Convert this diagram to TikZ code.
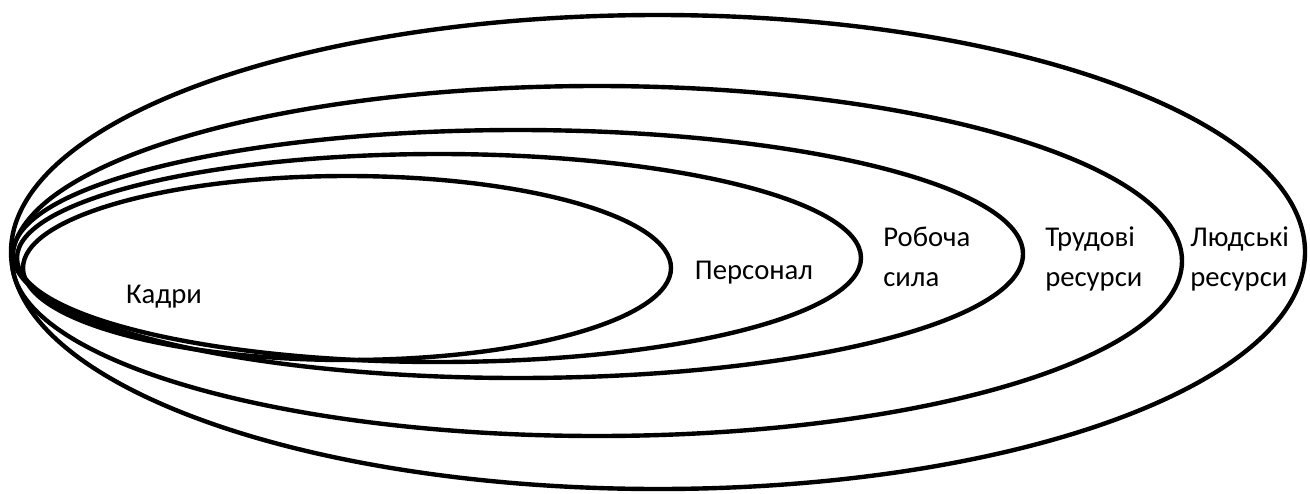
\documentclass[tikz,border=0pt]{standalone}
\usepackage{fontspec}
\setmainfont{Carlito}
\tikzset{
  ring/.style={black, line width=3.3pt},
  lbl/.style={font=\fontsize{21.5}{30}\selectfont, inner sep=0pt, align=left}
}

\begin{document}
\begin{tikzpicture}[x=0.75pt,y=-0.75pt]
\useasboundingbox (0,0) rectangle (1310,493);
\draw[ring] (658,252) ellipse [x radius=647, y radius=237];
\draw[ring] (597,261) ellipse [x radius=585, y radius=175];
\draw[ring] (518,254) ellipse [x radius=505, y radius=124];
\draw[ring] (439,258) ellipse [x radius=422, y radius=104];
\draw[ring] (347,268) ellipse [x radius=324, y radius=92];
\node[lbl, anchor=base] (kadry) at (164,303) {Кадри};
\node[lbl, anchor=base] (personal) at (754,279) {Персонал};
\node[lbl, anchor=base west] (robocha) at (883,286) {Робоча\\сила};
\node[lbl, anchor=base west] (trudovi) at (1045,286) {Трудові\\ресурси};
\node[lbl, anchor=base west] (liudski) at (1190,286) {Людські\\ресурси};
\end{tikzpicture}
\end{document}
